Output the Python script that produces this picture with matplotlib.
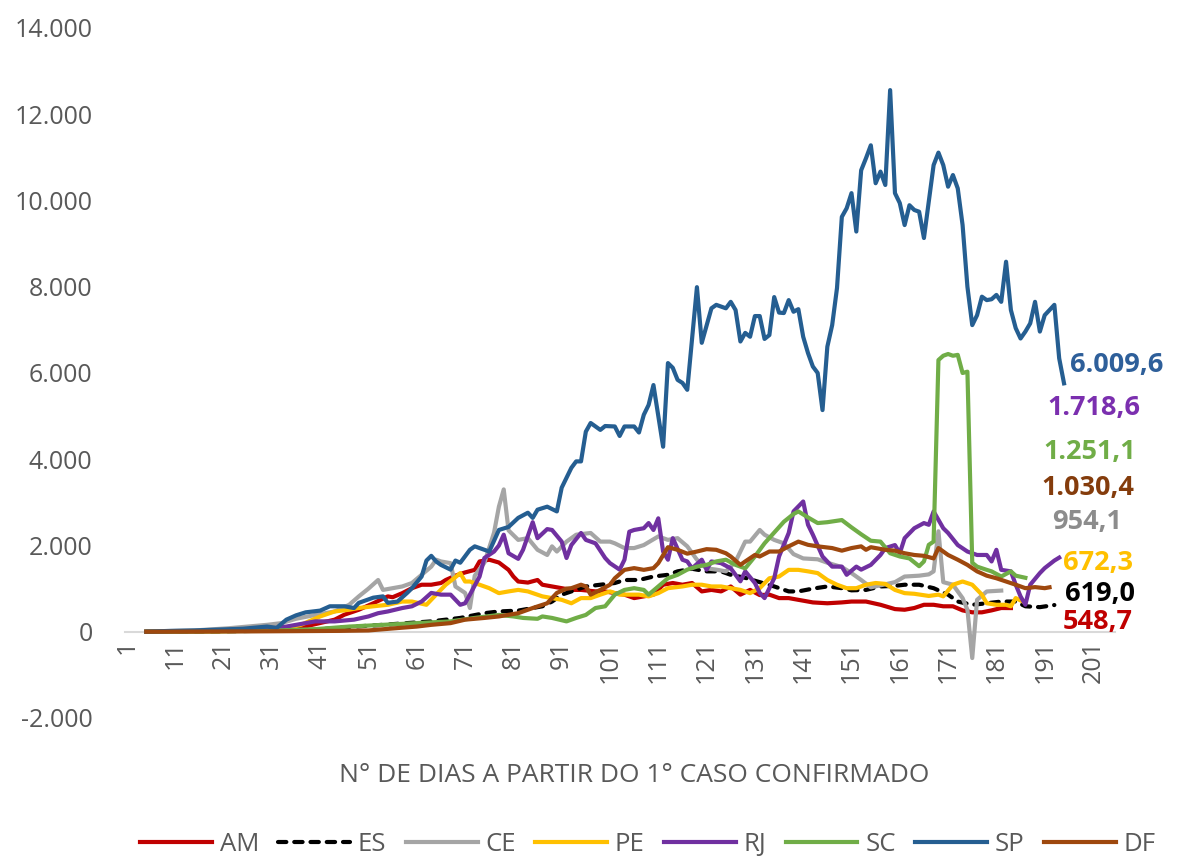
import matplotlib.pyplot as plt

plt.rcParams['font.family'] = ['Open Sans', 'DejaVu Sans']

# dados (dia a partir do 1o caso, media de casos)
am_dia = [5, 15, 25, 30, 33, 38, 44, 46, 49, 52, 55, 56, 58, 60, 62, 64, 66, 67, 69, 71, 73, 74, 76, 78, 80, 81,
          82, 84, 86, 87, 89, 91, 93, 95, 98, 100, 102, 104, 106, 108, 110, 112, 114, 116, 118, 120, 122, 124, 126,
          128, 130, 132, 134, 136, 138, 140, 143, 146, 149, 151, 154, 157, 160, 162, 164, 166, 168, 170, 172, 174,
          176, 178, 180, 182, 184]
am = [0, 10, 30, 40, 46, 125, 280, 395, 510, 660, 820, 800, 895, 1010, 1090, 1090, 1130, 1200, 1300, 1375, 1435,
      1630, 1670, 1605, 1435, 1280, 1165, 1140, 1200, 1090, 1050, 1010, 970, 970, 935, 935, 895, 860, 780, 820, 860,
      1090, 1130, 1090, 1130, 935, 970, 935, 1050, 860, 970, 850, 860, 780, 780, 740, 680, 660, 680, 700, 700, 625,
      525, 510, 550, 625, 625, 590, 590, 495, 450, 450, 495, 550, 548.7]

es_dia = [5, 20, 35, 40, 44, 49, 54, 59, 64, 70, 75, 78, 82, 85, 87, 89, 91, 93, 96, 99, 102, 104, 107, 110, 113,
          115, 118, 121, 124, 126, 129, 132, 135, 138, 140, 143, 146, 149, 151, 154, 157, 160, 162, 165, 168, 171,
          173, 176, 179, 182, 185, 187, 190, 193]
es = [0, 10, 30, 45, 85, 125, 160, 200, 240, 320, 430, 470, 490, 550, 590, 700, 860, 935, 1050, 1090, 1130, 1200,
      1200, 1280, 1320, 1400, 1460, 1400, 1400, 1320, 1250, 1150, 1050, 935, 935, 1000, 1050, 1010, 960, 970, 1050,
      1065, 1090, 1090, 1010, 860, 700, 625, 660, 700, 700, 590, 570, 619.0]

ce_dia = [5, 15, 22, 26, 30, 33, 36, 40, 44, 47, 49, 51, 53, 54, 56, 58, 60, 62, 64, 65, 66, 68, 69, 71, 72, 73,
          75, 77, 78, 79, 80, 82, 84, 86, 88, 89, 90, 92, 94, 97, 99, 101, 102, 104, 106, 108, 111, 113, 115, 117,
          119, 121, 123, 125, 127, 129, 130, 132, 133, 135, 137, 139, 141, 144, 146, 149, 151, 153, 155, 158, 160,
          162, 165, 167, 168, 169, 170, 172, 174, 175, 176, 177, 179, 182]
ce = [0, 30, 80, 120, 160, 200, 300, 390, 470, 625, 820, 1000, 1200, 970, 1010, 1050, 1130, 1320, 1510, 1670, 1630,
      1590, 1050, 900, 550, 1300, 1600, 2300, 2900, 3300, 2350, 2130, 2170, 1900, 1780, 1980, 1860, 2090, 2250, 2290,
      2090, 2090, 2050, 1940, 1940, 2010, 2210, 2130, 2170, 1980, 1670, 1470, 1440, 1400, 1630, 2090, 2090, 2360,
      2250, 2130, 2050, 1800, 1700, 1680, 1600, 1500, 1360, 1200, 1030, 1100, 1150, 1280, 1300, 1330, 1400, 2330,
      1150, 1090, 780, 510, -610, 740, 934, 954.1]

pe_dia = [5, 20, 30, 33, 37, 41, 44, 47, 49, 52, 55, 58, 60, 63, 65, 67, 69, 70, 71, 72, 74, 76, 78, 80, 82, 84,
          87, 89, 91, 93, 95, 97, 99, 101, 103, 105, 107, 109, 111, 113, 116, 118, 120, 122, 124, 126, 128, 130, 132,
          134, 136, 138, 140, 142, 144, 146, 148, 150, 152, 154, 156, 158, 160, 162, 164, 167, 169, 170, 172, 174,
          176, 178, 179, 181, 183, 184, 185, 187]
pe = [0, 10, 30, 46, 160, 355, 470, 510, 550, 590, 625, 700, 700, 625, 860, 1090, 1265, 1360, 1165, 1165, 1090,
      1010, 895, 935, 970, 935, 820, 780, 740, 660, 780, 780, 860, 935, 860, 860, 860, 820, 895, 1010, 1050, 1090,
      1090, 1050, 1050, 1010, 970, 895, 1010, 1240, 1280, 1435, 1435, 1400, 1360, 1200, 1090, 1010, 1010, 1090,
      1130, 1110, 970, 895, 880, 830, 860, 820, 1090, 1165, 1090, 860, 660, 625, 625, 590, 780, 672.3]

rj_dia = [5, 20, 30, 34, 40, 44, 48, 51, 53, 55, 58, 60, 62, 64, 66, 68, 70, 71, 72, 74, 75, 77, 78, 79, 80, 82,
          83, 85, 86, 88, 89, 91, 92, 93, 95, 96, 98, 100, 101, 103, 104, 105, 106, 108, 109, 110, 111, 112, 113,
          114, 116, 117, 118, 120, 121, 122, 124, 126, 128, 129, 131, 132, 133, 135, 136, 138, 139, 141, 142, 143,
          145, 147, 149, 150, 152, 153, 155, 157, 158, 160, 161, 162, 164, 166, 167, 168, 170, 171, 173, 175, 177,
          179, 180, 181, 182, 184, 185, 186, 187, 188, 190, 191, 193, 194]
rj = [0, 20, 60, 120, 240, 240, 280, 355, 430, 470, 550, 590, 700, 900, 860, 860, 625, 660, 860, 1280, 1710, 1860,
      2000, 2250, 1820, 1690, 1900, 2540, 2170, 2380, 2360, 2090, 1710, 2010, 2290, 2130, 2050, 1710, 1590, 1440,
      1670, 2320, 2360, 2400, 2520, 2360, 2630, 1860, 1670, 2170, 1670, 1630, 1470, 1670, 1440, 1630, 1590, 1470,
      1170, 1400, 1130, 900, 780, 1240, 1745, 2290, 2790, 3020, 2480, 2250, 1745, 1510, 1510, 1320, 1510, 1440,
      1550, 1780, 1940, 2010, 1820, 2170, 2400, 2520, 2480, 2790, 2400, 2290, 2010, 1860, 1780, 1780, 1630, 1900,
      1435, 1400, 1090, 820, 625, 1090, 1360, 1475, 1650, 1718.6]

sc_dia = [5, 30, 40, 47, 54, 61, 68, 73, 78, 81, 83, 86, 87, 89, 92, 94, 96, 97, 98, 100, 102, 104, 106, 108, 109,
          111, 113, 115, 117, 119, 121, 123, 125, 127, 129, 131, 133, 135, 137, 139, 140, 142, 144, 146, 149, 151,
          153, 155, 157, 159, 161, 163, 165, 166, 167, 168, 169, 170, 171, 172, 173, 174, 175, 176, 177, 179, 180,
          182, 184, 185, 187]
sc = [0, 20, 60, 120, 160, 200, 240, 320, 390, 355, 320, 300, 355, 320, 240, 320, 390, 470, 550, 590, 860, 970,
      1010, 970, 860, 1050, 1240, 1320, 1440, 1510, 1550, 1630, 1670, 1550, 1470, 1745, 2050, 2300, 2550, 2730,
      2790, 2650, 2520, 2540, 2590, 2420, 2260, 2110, 2090, 1820, 1745, 1700, 1520, 1630, 2015, 2090, 6300, 6400,
      6440, 6400, 6420, 6000, 6030, 1600, 1510, 1435, 1400, 1280, 1400, 1300, 1251.1]

sp_dia = [5, 10, 15, 20, 25, 30, 32, 34, 36, 38, 41, 43, 46, 48, 49, 52, 54, 55, 57, 59, 60, 62, 63, 64, 65, 66,
          68, 69, 70, 72, 73, 76, 78, 80, 82, 84, 85, 86, 88, 90, 91, 93, 94, 95, 96, 97, 99, 100, 102, 103, 104,
          106, 107, 108, 109, 110, 112, 113, 114, 115, 116, 117, 119, 120, 122, 123, 124, 125, 126, 127, 128, 129,
          130, 131, 132, 133, 134, 135, 136, 137, 138, 139, 140, 141, 142, 143, 144, 145, 146, 147, 148, 149, 150,
          151, 152, 153, 154, 155, 156, 157, 158, 159, 160, 161, 162, 163, 164, 165, 166, 168, 169, 170, 171, 172,
          173, 174, 175, 176, 177, 178, 179, 180, 181, 182, 183, 184, 185, 186, 187, 188, 189, 190, 191, 193, 194,
          195]
sp = [0, 20, 30, 50, 70, 120, 90, 280, 380, 450, 490, 590, 590, 550, 670, 790, 820, 670, 700, 900, 1010, 1280,
      1650, 1760, 1630, 1550, 1440, 1650, 1600, 1900, 1980, 1860, 2360, 2430, 2640, 2760, 2640, 2830, 2900, 2790,
      3340, 3800, 3950, 3950, 4640, 4840, 4680, 4770, 4760, 4540, 4760, 4760, 4620, 5030, 5260, 5720, 4290, 6230,
      6120, 5840, 5770, 5610, 7990, 6700, 7500, 7580, 7540, 7500, 7650, 7460, 6730, 6930, 6840, 7320, 7320, 6790,
      6880, 7760, 7400, 7390, 7690, 7420, 7480, 6840, 6460, 6150, 6000, 5140, 6610, 7110, 7970, 9620, 9820, 10170,
      9280, 10700, 10980, 11280, 10400, 10670, 10360, 12560, 10170, 9940, 9430, 9890, 9780, 9740, 9130, 10820,
      11110, 10820, 10320, 10590, 10280, 9430, 8000, 7110, 7340, 7770, 7690, 7710, 7810, 7650, 8580, 7460, 7040,
      6800, 6960, 7150, 7650, 6960, 7340, 7580, 6340, 5760]

df_dia = [5, 30, 45, 51, 57, 61, 64, 68, 71, 75, 78, 82, 85, 88, 90, 92, 93, 95, 96, 97, 99, 101, 102, 104, 106,
          108, 110, 111, 113, 115, 117, 119, 121, 123, 125, 126, 128, 129, 131, 132, 134, 136, 138, 140, 142, 144,
          147, 149, 151, 153, 154, 155, 158, 160, 162, 164, 166, 168, 169, 171, 173, 175, 177, 179, 181, 183, 185,
          187, 189, 191, 192]
df = [0, 10, 20, 30, 85, 120, 160, 200, 280, 320, 355, 430, 550, 660, 900, 1000, 1010, 1090, 1050, 860, 970, 1090,
      1240, 1435, 1475, 1435, 1475, 1590, 1960, 1900, 1810, 1860, 1915, 1900, 1820, 1745, 1550, 1630, 1780, 1745,
      1860, 1860, 1980, 2090, 2015, 1980, 1940, 1880, 1940, 1980, 1900, 1960, 1900, 1880, 1820, 1780, 1760, 1700,
      1940, 1780, 1670, 1550, 1400, 1300, 1240, 1165, 1090, 1010, 1035, 1010, 1030.4]

series = [
    ('AM', am_dia, am, '#C00000', '-'),
    ('ES', es_dia, es, '#000000', (0, (2.0, 1.9))),
    ('CE', ce_dia, ce, '#A5A5A5', '-'),
    ('PE', pe_dia, pe, '#FFC000', '-'),
    ('RJ', rj_dia, rj, '#7030A0', '-'),
    ('SC', sc_dia, sc, '#70AD47', '-'),
    ('SP', sp_dia, sp, '#255E91', '-'),
    ('DF', df_dia, df, '#9E480E', '-'),
]

# rotulos finais (texto, cor, posicao)
rotulos = [
    ('6.009,6', '#2E5F9A', 196.2, 6190),
    ('1.718,6', '#7B2FAF', 191.5, 5190),
    ('1.251,1', '#70AD47', 190.7, 4170),
    ('1.030,4', '#843C0C', 190.4, 3340),
    ('954,1', '#8C8C8C', 192.5, 2550),
    ('672,3', '#FFC000', 194.8, 1600),
    ('619,0', '#000000', 195.2, 880),
    ('548,7', '#C00000', 194.8, 220),
]

fig = plt.figure(figsize=(11.84, 8.64), dpi=100)
ax = fig.add_axes([0.1052, 0.169, 0.8363, 0.7986])

for nome, x, y, cor, estilo in series:
    ax.plot(x, y, color=cor, lw=3.0, linestyle=estilo, label=nome,
            solid_joinstyle='round', dash_capstyle='round')

for txt, cor, x, y in rotulos:
    ax.text(x, y, txt, color=cor, fontsize=19.5, fontweight='bold', ha='left', va='center')

ax.set_xlim(0.5, 205.5)
ax.set_ylim(-2000, 14000)

ax.set_xticks(range(1, 202, 10))
ax.set_xticklabels([str(d) for d in range(1, 202, 10)])
yt = list(range(-2000, 14001, 2000))
ax.set_yticks(yt)
ax.set_yticklabels([f'{v:,}'.replace(',', '.') for v in yt])

ax.tick_params(axis='x', length=0, pad=6, labelsize=18, labelcolor='#595959', labelrotation=90)
ax.tick_params(axis='y', length=0, pad=23, labelsize=18, labelcolor='#595959')

for s in ['top', 'right', 'left']:
    ax.spines[s].set_visible(False)
ax.spines['bottom'].set_position(('data', 0))
ax.spines['bottom'].set_color('#D9D9D9')
ax.spines['bottom'].set_linewidth(1.5)
ax.spines['bottom'].set_zorder(0)

fig.text(0.536, 1 - 775 / 864, 'N° DE DIAS A PARTIR DO 1° CASO CONFIRMADO',
         ha='center', va='center', fontsize=19, color='#595959')

fig.legend(*ax.get_legend_handles_labels(), loc='center', bbox_to_anchor=(0.547, 0.022), ncol=8,
           frameon=False, fontsize=18.5, handlelength=2.8, handletextpad=0.3, columnspacing=0.75,
           labelcolor='#595959', borderpad=0.1)

plt.savefig('out.png', dpi=100)
